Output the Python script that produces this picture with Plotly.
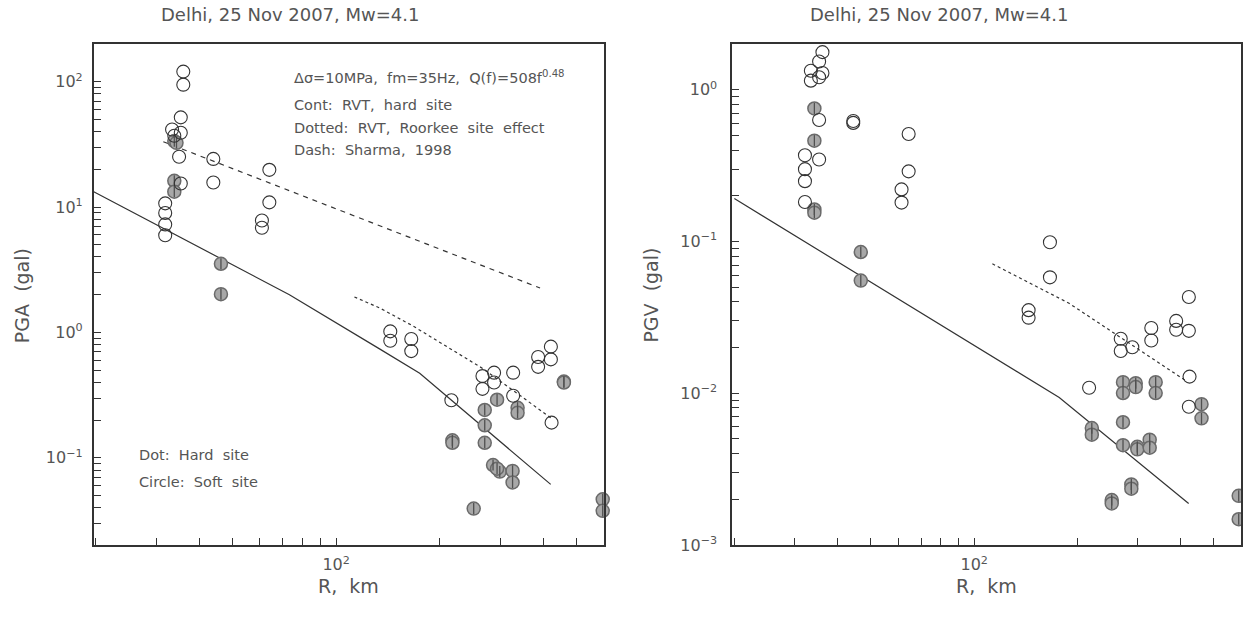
import math
import plotly.graph_objects as go

# ---------------- data ----------------
# Left panel: PGA (gal) vs R (km)
pga_soft_r = [35.9, 35.9, 35.3, 33.3, 35.3, 33.8, 34.9, 43.9, 43.9, 63.9, 63.9, 60.8, 60.8,
              35.3, 31.8, 31.8, 31.8, 31.8,
              143.7, 143.7, 165.4, 165.4, 216.4, 266.5, 266.5, 288.1, 288.1, 327.4, 327.4,
              387.0, 387.0, 421.5, 421.5, 423.5]
pga_soft_v = [120.2, 94.6, 51.9, 41.5, 39.1, 37.0, 25.2, 24.2, 15.7, 19.8, 10.9, 7.81, 6.83,
              15.4, 10.7, 8.96, 7.27, 5.96,
              1.02, 0.859, 0.886, 0.710, 0.288, 0.449, 0.355, 0.478, 0.399, 0.478, 0.313,
              0.637, 0.532, 0.771, 0.610, 0.191]
pga_hard_r = [33.8, 34.3, 33.8, 33.8, 46.2, 46.2, 217.9, 217.9, 293.9, 270.6, 270.6, 270.6,
              337.2, 337.2, 286.1, 299.3, 293.9, 326.1, 326.1, 251.3, 459.9, 459.9, 596.6, 596.6]
pga_hard_v = [33.6, 32.5, 16.2, 13.25, 3.53, 2.02, 0.138, 0.132, 0.291, 0.241, 0.182, 0.132,
              0.251, 0.229, 0.0877, 0.0777, 0.0820, 0.0787, 0.0637, 0.0394, 0.406, 0.399,
              0.0467, 0.0378]
pga_rvt_r = [19.7, 73.1, 133.7, 175.0, 421.0]
pga_rvt_v = [13.25, 2.0, 0.74, 0.472, 0.0615]
pga_site_r = [113.0, 133.7, 167.0, 267.0, 421.0]
pga_site_v = [1.92, 1.57, 1.13, 0.516, 0.209]
pga_sharma_r = [31.4, 392.0]
pga_sharma_v = [33.2, 2.26]

# Right panel: PGV vs R (km)
pgv_soft_r = [36.1, 35.3, 33.4, 36.1, 33.4, 35.3, 35.3, 44.4, 44.4, 64.4, 32.1, 35.3, 32.1,
              32.1, 32.1, 61.4, 61.4, 64.4,
              166.3, 166.3, 144.1, 144.1, 267.5, 267.5, 289.1, 328.4, 328.4, 388.1, 388.1,
              422.6, 422.6, 424.6, 422.6, 216.3]
pgv_soft_v = [1.771, 1.535, 1.334, 1.289, 1.149, 1.209, 0.632, 0.623, 0.605, 0.511, 0.370,
              0.347, 0.300, 0.250, 0.1824, 0.2206, 0.1806, 0.290,
              0.0990, 0.0581, 0.0353, 0.0315, 0.0229, 0.0190, 0.0201, 0.0269, 0.0223, 0.0300,
              0.0262, 0.0431, 0.0258, 0.01288, 0.00815, 0.01087]
pgv_hard_r = [34.2, 34.2, 34.2, 34.2, 46.7, 46.7,
              271.6, 271.6, 295.8, 295.8, 338.2, 338.2, 460.1, 460.1, 220.3, 220.3,
              271.6, 271.6, 299.0, 299.0, 324.9, 324.9, 287.2, 287.2, 251.8, 251.8,
              590.6, 590.6]
pgv_hard_v = [0.753, 0.462, 0.1627, 0.1549, 0.0853, 0.0553,
              0.01184, 0.01004, 0.01166, 0.01099, 0.01184, 0.01004, 0.00848, 0.00684,
              0.00590, 0.00534, 0.00645, 0.00455, 0.00444, 0.00427, 0.00495, 0.00438,
              0.00251, 0.00235, 0.00198, 0.00188, 0.00211, 0.00148]
pgv_rvt_r = [19.98, 177.0, 422.0]
pgv_rvt_v = [0.192, 0.00938, 0.001876]
pgv_site_r = [113.0, 189.0, 414.0]
pgv_site_v = [0.0713, 0.0392, 0.0121]

title_text = "Delhi, 25 Nov 2007, Mw=4.1"
x_tick_vals = [100]
x_tick_text = ["10<sup>2</sup>"]
pga_tick_vals = [0.1, 1, 10, 100]
pga_tick_text = ["10<sup>−1</sup>", "10<sup>0</sup>", "10<sup>1</sup>", "10<sup>2</sup>"]
pgv_tick_vals = [0.001, 0.01, 0.1, 1]
pgv_tick_text = ["10<sup>−3</sup>", "10<sup>−2</sup>", "10<sup>−1</sup>", "10<sup>0</sup>"]

# ---------------- figure ----------------
W, H = 1243, 618
FONT = "DejaVu Sans"
TXT = "#555555"
INK = "#333333"

fig = go.Figure()


def minor_vals(lo_exp, hi_exp):
    return [m * 10 ** e for e in range(lo_exp, hi_exp + 1) for m in range(2, 10)]


def add_panel(xa, ya, soft_r, soft_v, hard_r, hard_v, rvt_r, rvt_v, site_r, site_v,
              sh_r=None, sh_v=None):
    fig.add_trace(go.Scatter(x=rvt_r, y=rvt_v, mode="lines", xaxis=xa, yaxis=ya,
                             line=dict(color=INK, width=1.2), showlegend=False))
    fig.add_trace(go.Scatter(x=site_r, y=site_v, mode="lines", xaxis=xa, yaxis=ya,
                             line=dict(color=INK, width=1.2, dash="dot"), showlegend=False))
    if sh_r is not None:
        fig.add_trace(go.Scatter(x=sh_r, y=sh_v, mode="lines", xaxis=xa, yaxis=ya,
                                 line=dict(color=INK, width=1.2, dash="5px,5px"),
                                 showlegend=False))
    fig.add_trace(go.Scatter(x=hard_r, y=hard_v, mode="markers", xaxis=xa, yaxis=ya,
                             cliponaxis=False,
                             marker=dict(symbol="circle", size=13, color="#a8a8a8",
                                         line=dict(color="#6a6a6a", width=1.5)),
                             showlegend=False))
    fig.add_trace(go.Scatter(x=hard_r, y=hard_v, mode="markers", xaxis=xa, yaxis=ya,
                             cliponaxis=False,
                             marker=dict(symbol="line-ns-open", size=8, color="#505050",
                                         line=dict(color="#505050", width=1.3)),
                             showlegend=False))
    fig.add_trace(go.Scatter(x=soft_r, y=soft_v, mode="markers", xaxis=xa, yaxis=ya,
                             cliponaxis=False,
                             marker=dict(symbol="circle-open", size=13, color=INK,
                                         line=dict(color=INK, width=1.1)),
                             showlegend=False))


add_panel("x", "y", pga_soft_r, pga_soft_v, pga_hard_r, pga_hard_v,
          pga_rvt_r, pga_rvt_v, pga_site_r, pga_site_v, pga_sharma_r, pga_sharma_v)
add_panel("x2", "y2", pgv_soft_r, pgv_soft_v, pgv_hard_r, pgv_hard_v,
          pgv_rvt_r, pgv_rvt_v, pgv_site_r, pgv_site_v)

ydom = [1 - 554 / H, 1 - 45 / H]
xdom1 = [94 / W, 604 / W]
xdom2 = [733 / W, 1242 / W]


def axis(domain, rng, anchor, tv, tt, minor, standoff):
    return dict(type="log", domain=domain, range=rng, anchor=anchor,
                showline=True, mirror=True, linecolor=INK, linewidth=2,
                ticks="inside", ticklen=7, tickwidth=1.2, tickcolor=INK,
                tickmode="array", tickvals=tv, ticktext=tt, ticklabelstandoff=standoff,
                minor=dict(tickmode="array", tickvals=minor, ticks="inside", ticklen=7,
                           tickwidth=1.2, tickcolor=INK, showgrid=False),
                showgrid=False, zeroline=False,
                tickfont=dict(family=FONT, size=16, color=TXT))


xrange = [1.295, 2.778]
fig.update_layout(
    width=W, height=H,
    margin=dict(l=0, r=0, t=0, b=0),
    paper_bgcolor="white", plot_bgcolor="white",
    xaxis=axis(xdom1, xrange, "y", x_tick_vals, x_tick_text, minor_vals(1, 2), 4),
    yaxis=axis(ydom, [-1.695, 2.298], "x", pga_tick_vals, pga_tick_text, minor_vals(-2, 2), 6),
    xaxis2=axis(xdom2, xrange, "y2", x_tick_vals, x_tick_text, minor_vals(1, 2), 4),
    yaxis2=axis(ydom, [-3.0, 0.3], "x2", pgv_tick_vals, pgv_tick_text, minor_vals(-3, 0), 10),
)

ann = []


def txt(x, y, s, size, xanchor="center", angle=0):
    ann.append(dict(x=x / W, y=1 - y / H, xref="paper", yref="paper", text=s,
                    showarrow=False, xanchor=xanchor, yanchor="middle", textangle=angle,
                    font=dict(family=FONT, size=size, color=TXT)))


# titles
txt(290, 15, title_text, 18)
txt(940, 15, title_text, 18)
# axis titles
txt(349, 596, "R,  km", 19)
txt(987, 596, "R,  km", 19)
txt(22, 300, "PGA  (gal)", 19, angle=-90)
txt(652, 300, "PGV  (gal)", 19, angle=-90)
# in-plot notes
NS = 14.5
txt(292, 78, "Δσ=10MPa,  fm=35Hz,  Q(f)=508f<sup>0.48</sup>", NS, xanchor="left")
txt(292, 107, "Cont:  RVT,  hard  site", NS, xanchor="left")
txt(292, 130, "Dotted:  RVT,  Roorkee  site  effect", NS, xanchor="left")
txt(292, 152, "Dash:  Sharma,  1998", NS, xanchor="left")
txt(137, 462, "Dot:  Hard  site", NS, xanchor="left")
txt(137, 490, "Circle:  Soft  site", NS, xanchor="left")

fig.update_layout(annotations=ann)
fig.write_html("out.html")
